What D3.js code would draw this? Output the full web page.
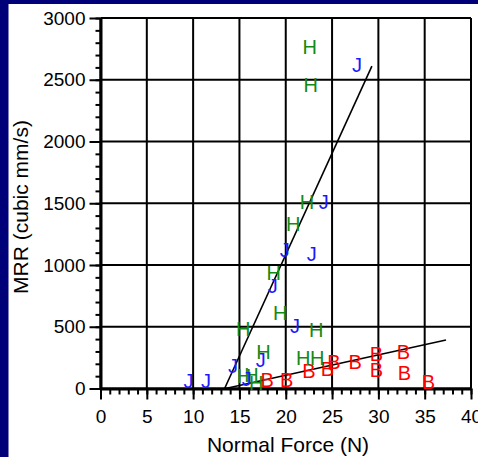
<!DOCTYPE html>
<html>
<head>
<meta charset="utf-8">
<script src="https://cdn.jsdelivr.net/npm/d3@7"></script>
<style>
  html, body { margin: 0; padding: 0; background: #ffffff; }
  svg { display: block; }
  text { font-family: "Liberation Sans", Arial, sans-serif; }
</style>
</head>
<body>
<svg id="chart" width="478" height="457"></svg>
<script>
// ---- data ----
const xTicks = [0, 5, 10, 15, 20, 25, 30, 35, 40];
const yTicks = [0, 500, 1000, 1500, 2000, 2500, 3000];

const jX = [9.5, 11.4, 14.3, 15.8, 17.3, 18.6, 19.9, 21.0, 22.8, 24.1, 27.7];
const jY = [60, 65, 180, 75, 230, 830, 1125, 510, 1090, 1515, 2625];

const hX = [15.4, 15.5, 16.3, 16.8, 17.6, 18.7, 19.4, 20.8, 21.9, 22.3, 22.6, 22.7, 23.3, 23.4];
const hY = [480, 100, 110, 45, 300, 940, 615, 1335, 245, 1515, 2770, 2460, 475, 245];

const bX = [18.0, 20.1, 22.5, 24.5, 25.2, 27.5, 29.8, 29.8, 32.7, 32.8, 35.4];
const bY = [68, 70, 145, 162, 220, 220, 280, 155, 295, 125, 55];

const fitJX = [13.4, 29.3];
const fitJY = [0, 2610];
const fitBX = [13.5, 37.3];
const fitBY = [0, 393];

const xTitle = "Normal Force (N)";
const yTitle = "MRR (cubic mm/s)";

// ---- drawing ----
(function () {
const svg = d3.select("#chart");
const W = 478, H = 457;
const pLeft = 100.5, pRight = 471, pTop = 18, pBottom = 388.5;

svg.append("rect").attr("x", 0).attr("y", 0).attr("width", W).attr("height", H).attr("fill", "#ffffff");
svg.append("rect").attr("x", 0).attr("y", 0).attr("width", W).attr("height", 4).attr("fill", "#000078");
svg.append("rect").attr("x", 0).attr("y", 0).attr("width", 8.5).attr("height", H).attr("fill", "#000078");

const x = d3.scaleLinear().domain([0, 40]).range([pLeft, pRight]);
const y = d3.scaleLinear().domain([0, 3000]).range([pBottom, pTop]);

// grid
const grid = svg.append("g").attr("stroke", "#000").attr("stroke-width", 2);
grid.selectAll("line.v").data(xTicks).join("line").attr("class", "v")
  .attr("x1", d => x(d)).attr("x2", d => x(d)).attr("y1", pTop).attr("y2", pBottom);
grid.selectAll("line.h").data(yTicks).join("line").attr("class", "h")
  .attr("x1", pLeft).attr("x2", pRight).attr("y1", d => y(d)).attr("y2", d => y(d));

// minor ticks
const xMinor = d3.range(0, 41, 1);
const yMinor = d3.range(0, 3001, 100);
svg.append("g").attr("transform", `translate(0,${pBottom})`)
  .call(d3.axisBottom(x).tickValues(xMinor).tickSize(6).tickFormat(""))
  .call(g => g.select(".domain").remove())
  .call(g => g.selectAll("line").attr("stroke-width", 2));
svg.append("g").attr("transform", `translate(${pLeft},0)`)
  .call(d3.axisLeft(y).tickValues(yMinor).tickSize(5).tickFormat(""))
  .call(g => g.select(".domain").remove())
  .call(g => g.selectAll("line").attr("stroke-width", 2));

// major axes
svg.append("g").attr("transform", `translate(0,${pBottom})`)
  .call(d3.axisBottom(x).tickValues(xTicks).tickSize(11).tickSizeOuter(0).tickPadding(10).tickFormat(d3.format("d")))
  .call(g => g.select(".domain").attr("stroke-width", 3))
  .call(g => g.selectAll("line").attr("stroke-width", 2))
  .call(g => g.selectAll("text").attr("font-size", 19).attr("fill", "#000")
    .attr("font-family", "Liberation Sans, Arial, sans-serif"));
svg.append("g").attr("transform", `translate(${pLeft},0)`)
  .call(d3.axisLeft(y).tickValues(yTicks).tickSize(11).tickSizeOuter(0).tickPadding(4).tickFormat(d3.format("d")))
  .call(g => g.select(".domain").attr("stroke-width", 3))
  .call(g => g.selectAll("line").attr("stroke-width", 2))
  .call(g => g.selectAll("text").attr("font-size", 19).attr("fill", "#000")
    .attr("font-family", "Liberation Sans, Arial, sans-serif"));

// fit lines
const lineGen = d3.line().x(d => x(d[0])).y(d => y(d[1]));
svg.append("path").datum(d3.zip(fitJX, fitJY)).attr("d", lineGen)
  .attr("fill", "none").attr("stroke", "#000").attr("stroke-width", 1.6);
svg.append("path").datum(d3.zip(fitBX, fitBY)).attr("d", lineGen)
  .attr("fill", "none").attr("stroke", "#000").attr("stroke-width", 1.6);

// letter markers
function markers(xs, ys, letter, color) {
  svg.append("g").selectAll("text").data(d3.zip(xs, ys)).join("text")
    .attr("x", d => x(d[0])).attr("y", d => y(d[1]))
    .attr("dy", "0.36em")
    .attr("text-anchor", "middle")
    .attr("font-size", 20)
    .attr("fill", color)
    .text(letter);
}
markers(bX, bY, "B", "#ff0000");
markers(hX, hY, "H", "#138a13");
markers(jX, jY, "J", "#1a1aff");

// titles
svg.append("text").attr("x", 288).attr("y", 452).attr("text-anchor", "middle")
  .attr("font-size", 21).attr("fill", "#000").text(xTitle);
svg.append("text").attr("transform", "translate(28,207) rotate(-90)").attr("text-anchor", "middle")
  .attr("font-size", 21).attr("fill", "#000").text(yTitle);
})();
</script>
</body>
</html>
